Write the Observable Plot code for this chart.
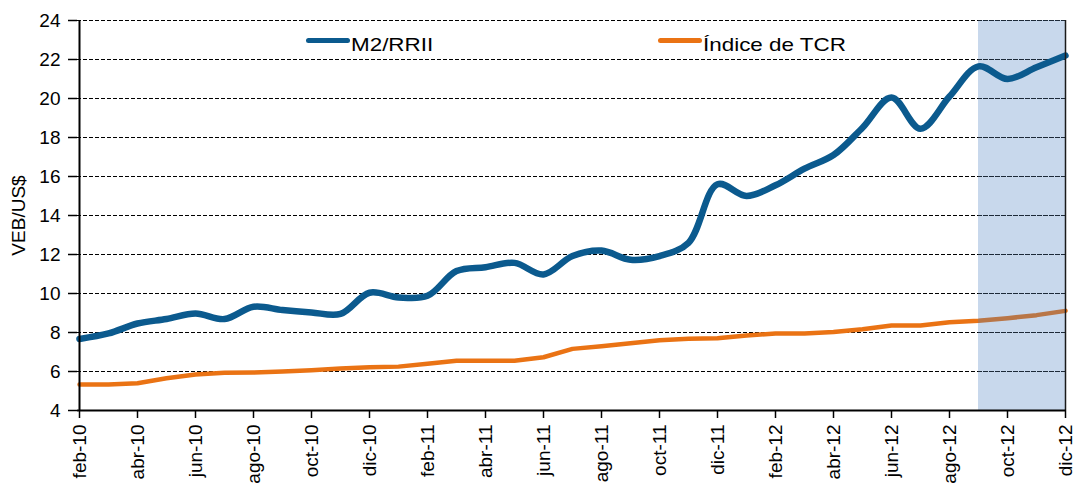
<!DOCTYPE html>
<html>
<head>
<meta charset="utf-8">
<script src="https://cdn.jsdelivr.net/npm/d3@7"></script>
<script src="https://cdn.jsdelivr.net/npm/@observablehq/plot@0.6"></script>
<style>
  html, body { margin: 0; padding: 0; background: #fff; }
  #wrap { position: relative; width: 1076px; height: 487px; overflow: hidden; font-family: "Liberation Sans", Arial, sans-serif; }
  .lg { position: absolute; font-size: 19px; line-height: 19px; color: #000; transform: scaleX(1.18); transform-origin: left center; white-space: nowrap; }
  .sw { position: absolute; height: 5px; border-radius: 3px; }
</style>
</head>
<body>
<div id="wrap"></div>
<script>
const months = ["feb-10","mar-10","abr-10","may-10","jun-10","jul-10","ago-10","sep-10","oct-10","nov-10","dic-10",
  "ene-11","feb-11","mar-11","abr-11","may-11","jun-11","jul-11","ago-11","sep-11","oct-11","nov-11","dic-11",
  "ene-12","feb-12","mar-12","abr-12","may-12","jun-12","jul-12","ago-12","sep-12","oct-12","nov-12","dic-12"];
const m2rrii = [7.67,7.95,8.46,8.69,8.97,8.69,9.32,9.15,9.03,8.95,10.04,
  9.8,9.88,11.15,11.35,11.57,10.98,11.92,12.2,11.73,11.92,12.6,15.6,
  15.0,15.55,16.4,17.1,18.5,20.05,18.45,20.1,21.65,21.0,21.6,22.2];
const tcr = [5.33,5.33,5.4,5.65,5.85,5.93,5.95,6.0,6.07,6.15,6.22,
  6.25,6.4,6.55,6.55,6.55,6.73,7.16,7.3,7.45,7.6,7.68,7.7,
  7.85,7.95,7.95,8.02,8.17,8.36,8.36,8.53,8.6,8.73,8.89,9.11];
const xTicks = ["feb-10","abr-10","jun-10","ago-10","oct-10","dic-10","feb-11","abr-11","jun-11","ago-11","oct-11","dic-11",
  "feb-12","abr-12","jun-12","ago-12","oct-12","dic-12"];
const yTicks = [4,6,8,10,12,14,16,18,20,22,24];
const gridTicks = [6,8,10,12,14,16,18,20,22,24];
const shadeRange = [{from: "sep-12", to: "dic-12"}];
const seriesNames = ["M2/RRII", "Índice de TCR"];

const blue = "#0b5a8e";
const orange = "#ea7314";

const data = months.map((m, i) => ({month: m, m2: m2rrii[i], tcr: tcr[i]}));

const chart = Plot.plot({
  width: 1076,
  height: 487,
  marginLeft: 77,
  marginRight: 10,
  marginTop: 20,
  marginBottom: 77,
  style: {fontFamily: "'Liberation Sans', Arial, sans-serif", fontSize: "19px", color: "#000", background: "#fff", overflow: "visible"},
  x: {type: "point", domain: months, padding: 0},
  y: {domain: [4, 24]},
  marks: [
    Plot.ruleY(gridTicks, {stroke: "#000", strokeWidth: 1, strokeDasharray: "4,2"}),
    Plot.line(data, {x: "month", y: "tcr", stroke: orange, strokeWidth: 4.5, curve: "linear"}),
    Plot.rect(shadeRange, {x1: "from", x2: "to", y1: () => 4, y2: () => 24, fill: "rgb(72,125,192)", fillOpacity: 0.3}),
    Plot.ruleY(gridTicks, {x1: () => shadeRange[0].from, x2: () => shadeRange[0].to, stroke: "#1e2a38", strokeWidth: 1, strokeDasharray: "4,2"}),
    Plot.line(data, {x: "month", y: "m2", stroke: blue, strokeWidth: 6.5, curve: "catmull-rom"}),
    Plot.ruleX(shadeRange, {x: "to", y1: () => 4, y2: () => 24, stroke: "#1a1a1a", strokeWidth: 1.5}),
    Plot.ruleY([4], {stroke: "#000", strokeWidth: 2}),
    Plot.ruleX([months[0]], {y1: () => 4, y2: () => 24, stroke: "#000", strokeWidth: 2}),
    Plot.axisX({ticks: xTicks, tickRotate: -90, tickSize: 8, tickPadding: 6, label: null, fontSize: 19, strokeWidth: 1.5}),
    Plot.axisY({ticks: yTicks, tickSize: 9, tickPadding: 8, label: "VEB/US$", labelAnchor: "center", labelArrow: "none", labelOffset: 66, fontSize: 19, strokeWidth: 1.5})
  ]
});

const wrap = document.getElementById("wrap");
wrap.appendChild(chart);

// legend
const legendItems = [
  {name: seriesNames[0], color: blue, swLeft: 306, swW: 44, textLeft: 351},
  {name: seriesNames[1], color: orange, swLeft: 658, swW: 44, textLeft: 703}
];
legendItems.forEach(it => {
  const sw = document.createElement("div");
  sw.className = "sw";
  sw.style.left = it.swLeft + "px";
  sw.style.top = "38px";
  sw.style.width = it.swW + "px";
  sw.style.background = it.color;
  wrap.appendChild(sw);
  const t = document.createElement("div");
  t.className = "lg";
  t.style.left = it.textLeft + "px";
  t.style.top = "35px";
  t.textContent = it.name;
  wrap.appendChild(t);
});
</script>
</body>
</html>
